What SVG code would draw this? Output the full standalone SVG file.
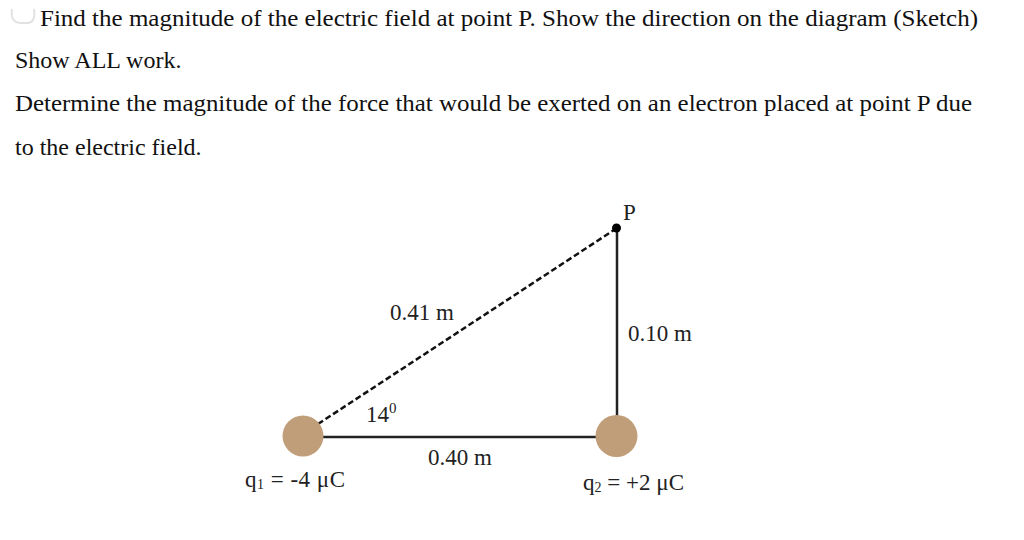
<svg xmlns="http://www.w3.org/2000/svg" width="1024" height="540" viewBox="0 0 1024 540">
<style>
  .t { font-family: "Liberation Serif", "Times New Roman", serif; fill: #111; }
  .q { font-size: 24px; }
  .lbl { font-size: 23px; fill: #222; }
  .charge { fill: #c19e7a; }
  .solid { stroke: #222; stroke-width: 2.5; fill: none; }
  .dash { stroke: #111; stroke-width: 2.5; fill: none; stroke-dasharray: 6 3; }
</style>
<rect width="1024" height="540" fill="#ffffff"/>
<g id="question">
  <path d="M12 9 Q10 22 20 23 L28 23 Q36 22 34 9" fill="none" stroke="#e2e2e2" stroke-width="2"/>
  <text class="t q" x="40" y="26" textLength="938" lengthAdjust="spacingAndGlyphs">Find the magnitude of the electric field at point P. Show the direction on the diagram (Sketch)</text>
  <text class="t q" x="15" y="68">Show ALL work.</text>
  <text class="t q" x="15" y="111" textLength="957" lengthAdjust="spacingAndGlyphs">Determine the magnitude of the force that would be exerted on an electron placed at point P due</text>
  <text class="t q" x="15" y="155">to the electric field.</text>
</g>
<g id="connectors">
  <line class="solid" x1="303" y1="437" x2="617" y2="437"/>
  <line class="solid" x1="617" y1="228" x2="617" y2="437"/>
  <line class="dash" x1="318" y1="424" x2="617" y2="228"/>
</g>
<g id="q1">
  <circle class="charge" cx="303" cy="436" r="20.5"/>
  <text class="t lbl" x="245" y="487" textLength="100">q<tspan font-size="14" dy="2">1</tspan><tspan dy="-2"> = -4 μC</tspan></text>
</g>
<g id="q2">
  <circle class="charge" cx="616.5" cy="436" r="21"/>
  <text class="t lbl" x="583" y="490" textLength="101">q<tspan font-size="14" dy="2">2</tspan><tspan dy="-2"> = +2 μC</tspan></text>
</g>
<g id="P">
  <circle cx="616.5" cy="228" r="4.5" fill="#000"/>
  <text class="t lbl" x="623" y="220" font-size="20">P</text>
</g>
<g id="labels">
  <text class="t lbl" x="390" y="320">0.41 m</text>
  <text class="t lbl" x="628" y="341">0.10 m</text>
  <text class="t lbl" x="366" y="422">14<tspan font-size="15" dy="-9">0</tspan></text>
  <text class="t lbl" x="428" y="465">0.40 m</text>
</g>
</svg>
